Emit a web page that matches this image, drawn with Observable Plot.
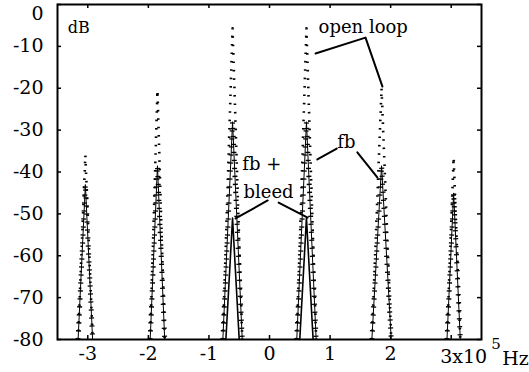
<!DOCTYPE html>
<html><head><meta charset="utf-8">
<script src="https://cdn.jsdelivr.net/npm/d3@7"></script>
<script src="https://cdn.jsdelivr.net/npm/@observablehq/plot@0.6"></script>
<style>body{margin:0;background:#fff}</style>
</head><body><div id="chart"></div>
<script>
// Spectral lines (x in units of 10^5 Hz, y in dB)
const peakFreq = [-3.04, -1.85, -0.61, 0.61, 1.85, 3.04];
const openLoopDb = [-36, -20.5, -5.7, -5.7, -20, -36.5];
const fbDb = [-43, -38.5, -28, -28, -38.5, -45];
const baseHalfWidth = [0.12, 0.12, 0.16, 0.16, 0.16, 0.11];
const bleedFreq = [-0.61, 0.61];
const bleedDb = [-51, -51];
const bleedHalfWidth = [0.11, 0.11];
const floorDb = -80;

const xTicks = [-3, -2, -1, 0, 1, 2, 3];
const xTickLabels = [-3, -2, -1, 0, 1, 2];
const yTicks = [0, -10, -20, -30, -40, -50, -60, -70, -80];
const unitLabels = ["3x10", "5", "Hz"];

// annotations
const annotText = ["dB", "open loop", "fb", "fb +", "bleed"];
const annotX = [-3.33, 0.81, 1.12, -0.45, -0.43];
const annotY = [-6.9, -6.7, -34.3, -39.6, -46.1];
const annotSize = [16, 18, 18, 18, 18];
const leaderId = [0, 0, 0, 1, 1, 2, 2, 3, 3, 4, 4];
const leaderX = [0.76, 1.585, 1.865, 0.79, 1.11, 1.45, 1.78, -0.03, -0.56, 0.15, 0.63];
const leaderY = [-11.7, -7.9, -19.6, -37, -34.4, -35.3, -41.3, -46.8, -51.1, -47.3, -50.9];

function triangles(freq, peak, hw) {
  const rows = [];
  freq.forEach((c, i) => {
    rows.push({k: i, x: c - hw[i], y: floorDb});
    rows.push({k: i, x: c, y: peak[i]});
    rows.push({k: i, x: c + hw[i], y: floorDb});
  });
  return rows;
}
const openRows = triangles(peakFreq, openLoopDb, baseHalfWidth);
const fbRows = triangles(peakFreq, fbDb, baseHalfWidth);
const bleedRows = triangles(bleedFreq, bleedDb, bleedHalfWidth);
const leaders = leaderX.map((x, i) => ({k: leaderId[i], x, y: leaderY[i]}));
const annots = annotText.map((t, i) => ({t, x: annotX[i], y: annotY[i], s: annotSize[i]}));

const W = 529, H = 372, ML = 57, MR = 48, MT = 4, MB = 33;
const fw = W - ML - MR, fh = H - MT - MB;

const chart = Plot.plot({
  width: W, height: H,
  marginLeft: ML, marginRight: MR, marginTop: MT, marginBottom: MB,
  x: {domain: [-3.5, 3.5], label: null},
  y: {domain: [-80, 0], label: null},
  style: {fontFamily: "DejaVu Serif", fontSize: "19px", color: "black", background: "white"},
  marks: [
    // open loop (dotted)
    Plot.line(openRows, {x: "x", y: "y", z: "k", stroke: "black", strokeWidth: 2.6, strokeDasharray: "1.6,6.8", strokeLinecap: "butt"}),
    // fb (solid with tick marks)
    Plot.line(fbRows, {x: "x", y: "y", z: "k", stroke: "black", strokeWidth: 1}),
    Plot.line(fbRows, {x: "x", y: "y", z: "k", stroke: "black", strokeWidth: 5, strokeDasharray: "1.3,6.7", strokeLinecap: "butt"}),
    // fb + bleed
    Plot.line(bleedRows, {x: "x", y: "y", z: "k", stroke: "black", strokeWidth: 1.6}),
    // leaders
    Plot.line(leaders, {x: "x", y: "y", z: "k", stroke: "black", strokeWidth: 2}),
    // frame + inward ticks
    Plot.frame({stroke: "black", strokeWidth: 2}),
    Plot.tickX(xTicks, {x: d => d, insetTop: fh - 4, strokeWidth: 1.5}),
    Plot.tickX(xTicks, {x: d => d, insetBottom: fh - 4, strokeWidth: 1.5}),
    Plot.tickY(yTicks, {y: d => d, insetRight: fw - 4, strokeWidth: 1.5}),
    Plot.tickY(yTicks, {y: d => d, insetLeft: fw - 4, strokeWidth: 1.5}),
    // axes labels
    Plot.axisY(yTicks.filter(d => d < 0), {tickSize: 0, tickPadding: 14, tickFormat: d => String(d), label: null, fontSize: 19}),
    Plot.text(yTicks.filter(d => d === 0), {y: d => d, frameAnchor: "left", text: d => String(d), textAnchor: "end", dx: -14, dy: 9, fontSize: 19}),
    Plot.axisX(xTickLabels, {tickSize: 0, tickPadding: 7, tickFormat: d => String(d), label: null, fontSize: 19}),
    Plot.text([unitLabels[0]], {x: [3], frameAnchor: "bottom", textAnchor: "start", lineAnchor: "bottom", dx: -11, dy: 23, fontSize: 19}),
    Plot.text([unitLabels[1]], {x: [3], frameAnchor: "bottom", textAnchor: "start", lineAnchor: "bottom", dx: 40, dy: 9, fontSize: 15}),
    Plot.text([unitLabels[2]], {x: [3], frameAnchor: "bottom", textAnchor: "start", lineAnchor: "bottom", dx: 51, dy: 25, fontSize: 19}),
    // annotations
    Plot.text(annots, {x: "x", y: "y", text: "t", fontSize: "s", textAnchor: "start", lineAnchor: "bottom"})
  ]
});
document.getElementById("chart").appendChild(chart);
</script>
</body></html>
